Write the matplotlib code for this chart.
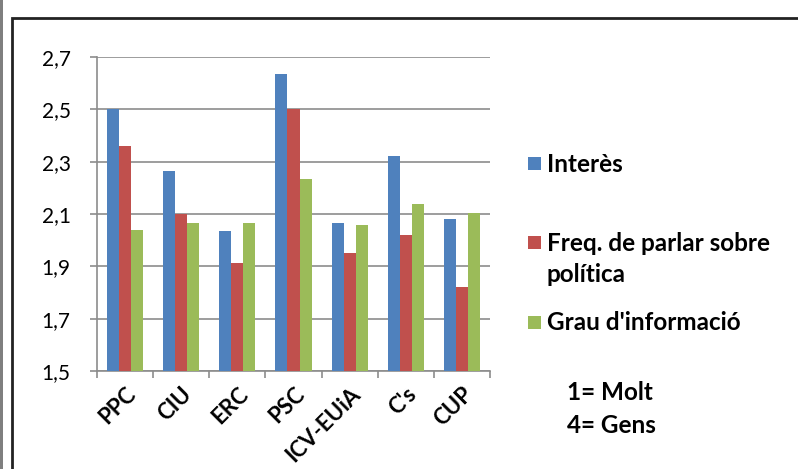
import matplotlib.pyplot as plt
import numpy as np
from matplotlib.patches import Rectangle

partits = ['PPC', 'CIU', 'ERC', 'PSC', 'ICV-EUiA', "C's", 'CUP']
interes = [2.50, 2.265, 2.034, 2.635, 2.064, 2.322, 2.082]
freq = [2.36, 2.10, 1.912, 2.50, 1.952, 2.019, 1.822]
grau = [2.04, 2.064, 2.064, 2.233, 2.057, 2.137, 2.105]
series = ['Interès', 'Freq. de parlar sobre\npolítica', "Grau d'informació"]
colors = ['#4F81BD', '#C0504D', '#9BBB59']
yticks = [1.5, 1.7, 1.9, 2.1, 2.3, 2.5, 2.7]
ylabels = ['1,5', '1,7', '1,9', '2,1', '2,3', '2,5', '2,7']

plt.rcParams['font.family'] = ['Lato', 'DejaVu Sans']

fig = plt.figure(figsize=(7.98, 4.69), dpi=100)
W, H = 798, 469

# frame and grey strip
fig.patches.append(Rectangle((0, 0), 3 / W, 1, transform=fig.transFigure,
                             facecolor='#7f7f7f', edgecolor='none'))
fig.patches.append(Rectangle((12 / W, -0.1), 1.2, (H - 18) / H + 0.1,
                             transform=fig.transFigure, facecolor='none',
                             edgecolor='#222222', linewidth=2))

ax = fig.add_axes([97 / W, (H - 371) / H, 393 / W, 314 / H])
x = np.arange(len(partits))
w = 0.214
for i, vals in enumerate([interes, freq, grau]):
    ax.bar(x + (i - 1) * w, vals, w, color=colors[i], zorder=3)

ax.set_ylim(1.5, 2.7)
ax.set_xlim(-0.5, len(partits) - 0.5)
ax.set_yticks(yticks)
ax.set_yticklabels(ylabels, fontsize=15)
ax.yaxis.grid(True, color='#8c8c8c', linewidth=1.2, zorder=0)
ax.set_xticks(np.arange(len(partits) + 1) - 0.5)
ax.set_xticklabels([])
ax.set_xticks(x, minor=True)
ax.set_xticklabels(partits, minor=True, rotation=45, ha='right',
                   rotation_mode='anchor', fontsize=16, fontweight='bold')
ax.tick_params(axis='x', which='minor', length=0, pad=9)
ax.tick_params(axis='x', which='major', length=5, color='#8c8c8c', width=1.2)
ax.tick_params(axis='y', length=5, color='#8c8c8c', width=1.2, pad=14)
for s in ['top', 'right']:
    ax.spines[s].set_visible(False)
for s in ['left', 'bottom']:
    ax.spines[s].set_color('#8c8c8c')
    ax.spines[s].set_linewidth(1.2)

# legend (drawn by hand to match spacing)
sq_y = [164, 243, 322]
txt_y = [165, 259, 322]
for i, lab in enumerate(series):
    fig.patches.append(Rectangle((528 / W, (H - sq_y[i] - 6.5) / H), 13 / W, 13 / H,
                                 transform=fig.transFigure,
                                 facecolor=colors[i], edgecolor='none'))
    fig.text(547 / W, (H - txt_y[i]) / H, lab, fontsize=17.5,
             fontweight='bold', va='center', ha='left', linespacing=1.38)

fig.text(567 / W, (H - 392) / H, '1= Molt', fontsize=17.5,
         fontweight='bold', va='center')
fig.text(567 / W, (H - 425) / H, '4= Gens', fontsize=17.5,
         fontweight='bold', va='center')

fig.savefig('out.png', dpi=100)
